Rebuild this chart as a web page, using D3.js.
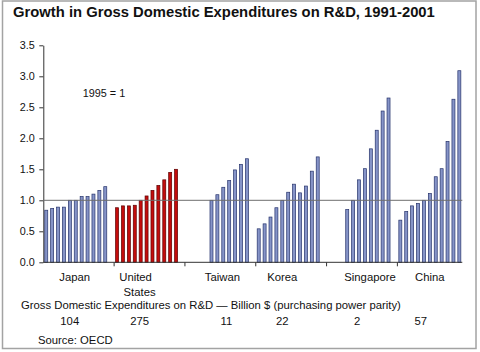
<!DOCTYPE html>
<html lang="en">
<head>
  <meta charset="UTF-8">
  <title>Growth in Gross Domestic Expenditures on R&D</title>
  <style>
    body { margin: 0; background: #fff; }
    text { font-family: "Liberation Sans", Arial, sans-serif; fill: #111; }
  </style>
</head>
<body>

  <script src="https://d3js.org/d3.v7.min.js"></script>
  <script>
    // data (1995 = 1)
    const years = [1991, 1992, 1993, 1994, 1995, 1996, 1997, 1998, 1999, 2000, 2001];
    const countries = ['Japan', 'United States', 'Taiwan', 'Korea', 'Singapore', 'China'];
    const japan = [0.84, 0.87, 0.89, 0.89, 1.00, 1.00, 1.06, 1.06, 1.10, 1.16, 1.22];
    const unitedStates = [0.88, 0.91, 0.91, 0.92, 1.00, 1.07, 1.16, 1.24, 1.33, 1.45, 1.50];
    const taiwan = [null, null, null, null, 1.00, 1.09, 1.21, 1.32, 1.49, 1.58, 1.67];
    const korea = [0.54, 0.62, 0.73, 0.88, 1.00, 1.13, 1.26, 1.12, 1.23, 1.47, 1.70];
    const singapore = [null, null, null, 0.85, 1.00, 1.33, 1.51, 1.83, 2.13, 2.44, 2.65];
    const china = [0.68, 0.82, 0.91, 0.95, 1.00, 1.11, 1.38, 1.51, 1.95, 2.63, 3.09];
    const spending = [104, 275, 11, 22, 2, 57];
    const yTicks = [0, 0.5, 1, 1.5, 2, 2.5, 3, 3.5];

    const series = [japan, unitedStates, taiwan, korea, singapore, china];

    // layout
    const width = 480;
    const height = 352;
    const plot = { left: 43.3, right: 462.3, top: 45.3, bottom: 262.3 };
    const slotsPerGroup = years.length + 1;               // one empty slot between groups
    const slotCount = countries.length * slotsPerGroup - 1;
    const barWidth = 3;
    const fontSize = 11.3;
    // hand placed labels in the original, shift from the bar group centre
    const labelNudge = [-1, -11, 5, -6, 11, 0];
    const valueNudge = [-6, -7, 9, -6, -2, -9];

    const bars = [];
    series.forEach((vals, gi) => {
      vals.forEach((v, yi) => {
        if (v == null) return;
        bars.push({ country: countries[gi], year: years[yi], value: v, slot: gi * slotsPerGroup + yi });
      });
    });

    const xScale = d3.scaleBand()
      .domain(d3.range(slotCount))
      .range([plot.left, plot.right]);

    const yScale = d3.scaleLinear()
      .domain([0, 3.5])
      .range([plot.bottom, plot.top]);

    const groupCenter = gi => xScale(gi * slotsPerGroup) + xScale.bandwidth() * years.length / 2;

    const svg = d3.select('body')
      .append('svg')
      .attr('width', width)
      .attr('height', height);

    // frame
    svg.append('rect')
      .attr('x', 2.5)
      .attr('y', 1)
      .attr('width', 473.5)
      .attr('height', 347.5)
      .attr('fill', 'none')
      .attr('stroke', '#a3a3a3')
      .attr('stroke-width', 1.5);

    svg.append('text')
      .attr('x', 13)
      .attr('y', 17)
      .attr('font-size', 14.8)
      .attr('font-weight', 'bold')
      .text('Growth in Gross Domestic Expenditures on R&D, 1991-2001');

    // y axis
    const yAxis = d3.axisLeft(yScale)
      .tickValues(yTicks)
      .tickFormat(d3.format('.1f'))
      .tickSize(4)
      .tickSizeOuter(0);

    const gy = svg.append('g')
      .attr('transform', `translate(${plot.left}, 0)`)
      .call(yAxis);
    gy.select('.domain').attr('stroke', '#333');
    gy.selectAll('.tick line').attr('stroke', '#333');
    gy.selectAll('.tick text')
      .attr('font-family', '"Liberation Sans", Arial, sans-serif')
      .attr('font-size', 10.8)
      .attr('fill', '#111')
      .attr('x', -8.5);

    // bars
    svg.append('g')
      .selectAll('rect')
      .data(bars)
      .join('rect')
      .attr('x', d => xScale(d.slot) + (xScale.bandwidth() - barWidth) / 2)
      .attr('y', d => yScale(d.value))
      .attr('width', barWidth)
      .attr('height', d => yScale(0) - yScale(d.value))
      .attr('fill', d => d.country === 'United States' ? '#c40c0c' : '#8694c8')
      .attr('stroke', d => d.country === 'United States' ? '#5c0000' : '#26336b')
      .attr('stroke-width', 0.7);

    // 1995 = 1 reference line
    svg.append('line')
      .attr('x1', plot.left)
      .attr('x2', plot.right)
      .attr('y1', yScale(1))
      .attr('y2', yScale(1))
      .attr('stroke', '#6f6f6f')
      .attr('stroke-width', 1);

    // x axis: line with ticks at the group boundaries
    svg.append('line')
      .attr('x1', plot.left)
      .attr('x2', plot.right)
      .attr('y1', yScale(0))
      .attr('y2', yScale(0))
      .attr('stroke', '#333');

    svg.append('g')
      .selectAll('line')
      .data(countries.slice(1))
      .join('line')
      .attr('x1', (d, i) => xScale((i + 1) * slotsPerGroup))
      .attr('x2', (d, i) => xScale((i + 1) * slotsPerGroup))
      .attr('y1', yScale(0))
      .attr('y2', yScale(0) + 4)
      .attr('stroke', '#333');

    svg.append('text')
      .attr('x', 104)
      .attr('y', 97)
      .attr('font-size', 10.8)
      .attr('text-anchor', 'middle')
      .text('1995 = 1');

    // country names
    svg.append('g')
      .selectAll('text')
      .data(countries)
      .join('text')
      .attr('x', (d, i) => groupCenter(i) + labelNudge[i])
      .attr('y', 281)
      .attr('font-size', fontSize)
      .attr('text-anchor', 'middle')
      .each(function (d) {
        const words = d === 'United States' ? ['United', 'States'] : [d];
        const t = d3.select(this);
        const x = t.attr('x');
        words.forEach((w, k) => {
          t.append('tspan')
            .attr('x', k === 1 ? +x + 4 : x)
            .attr('dy', k === 0 ? 0 : 14.5)
            .text(w);
        });
      });

    svg.append('text')
      .attr('x', 21)
      .attr('y', 309)
      .attr('font-size', fontSize)
      .text('Gross Domestic Expenditures on R&D \u2014 Billion $ (purchasing power parity)');

    svg.append('g')
      .selectAll('text')
      .data(spending)
      .join('text')
      .attr('x', (d, i) => groupCenter(i) + valueNudge[i])
      .attr('y', 325)
      .attr('font-size', fontSize)
      .attr('text-anchor', 'middle')
      .text(d => d);

    svg.append('text')
      .attr('x', 38)
      .attr('y', 344)
      .attr('font-size', fontSize)
      .text('Source: OECD');
  </script>

</body>
</html>
